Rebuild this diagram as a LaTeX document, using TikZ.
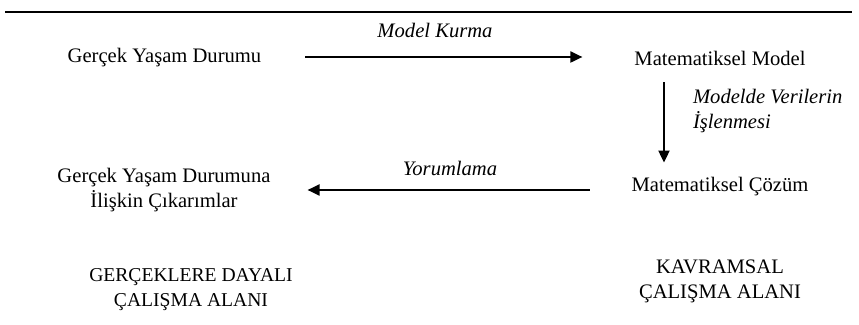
\documentclass[tikz,border=0pt]{standalone}
\usepackage{fontspec}
\setmainfont{Liberation Serif}
\usetikzlibrary{arrows.meta}

\begin{document}
\begin{tikzpicture}[x=0.5pt, y=-0.5pt, font=\fontsize{10.3}{12.5}\selectfont,
  flow/.style={-{Triangle[length=6pt, width=5.5pt]}, line width=1pt, draw=black},
  lbl/.style={font=\fontsize{10.3}{12.5}\selectfont\itshape}]
\useasboundingbox (0,0) rectangle (859,325);
\draw[line width=1pt] (5,12) -- (852,12);
\node[align=center] (gyd) at (164.5, 58) {Gerçek Yaşam Durumu};
\node[align=center] (mm) at (720, 58) {Matematiksel Model};
\node[align=center] (mc) at (720, 187) {Matematiksel Çözüm};
\node[align=center] (ci) at (164, 190) {Gerçek Yaşam Durumuna\\İlişkin Çıkarımlar};
\node[align=center, font=\fontsize{9.8}{12.5}\selectfont] (gd) at (191, 290) {GERÇEKLERE DAYALI\\ÇALIŞMA ALANI};
\node[align=center, font=\fontsize{10.3}{12.5}\selectfont] (ka) at (720, 281) {KAVRAMSAL\\ÇALIŞMA ALANI};
\node[lbl] (mk) at (435, 30) {Model Kurma};
\node[lbl] (yo) at (450, 168) {Yorumlama};
\node[lbl, align=left, anchor=west] (mv) at (686, 111) {Modelde Verilerin\\İşlenmesi};
\draw[flow] ([xshift=18.5pt, yshift=0.5pt]gyd.east) -- ([xshift=-22.5pt, yshift=0.5pt]gyd.east -| mm.west);
\draw[flow] ([xshift=-11pt, yshift=-5pt]mm.south -| mv.west) -- ([xshift=-11pt, yshift=4pt]mc.north -| mv.west);
\draw[flow] ([xshift=-17.5pt, yshift=-1.5pt]mc.west) -- ([xshift=15pt, yshift=-1.5pt]mc.west -| ci.east);
\end{tikzpicture}
\end{document}
